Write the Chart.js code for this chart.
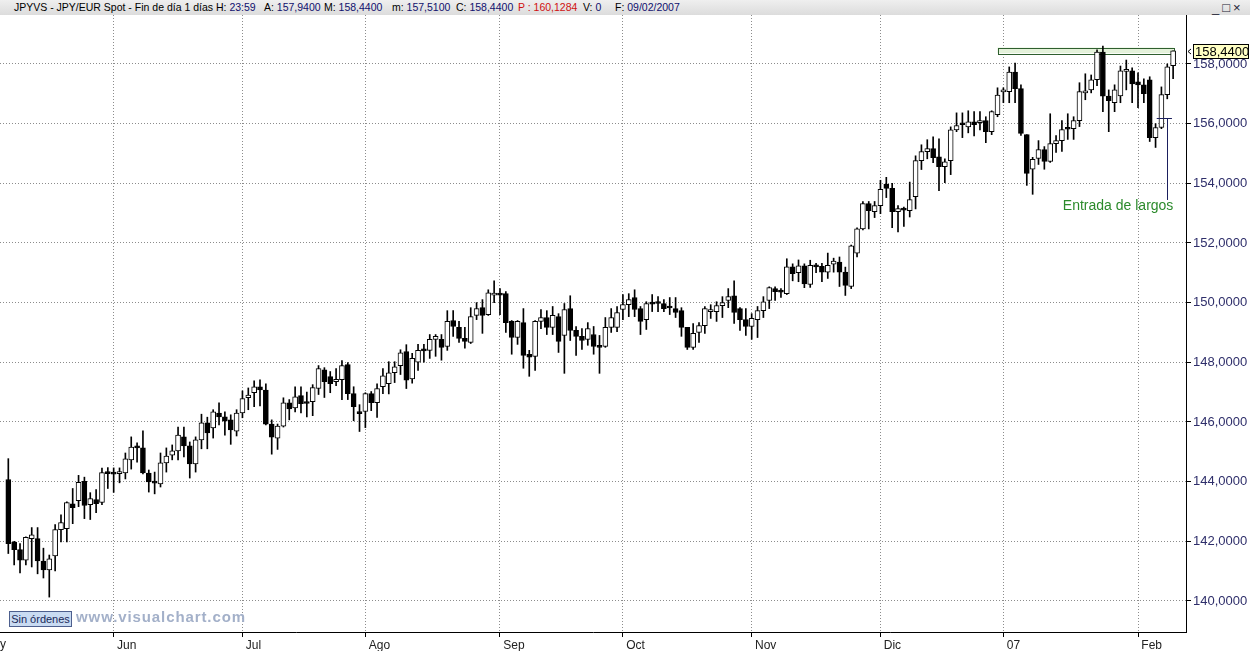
<!DOCTYPE html>
<html>
<head>
<meta charset="utf-8">
<script src="https://cdn.jsdelivr.net/npm/chart.js@4.4.1/dist/chart.umd.min.js"></script>
<style>
    body { margin: 0; width: 1250px; height: 651px; overflow: hidden; background: #fff; position: relative; font-family: "Liberation Sans", Arial, sans-serif; }
    #hdr { position: absolute; left: 0; top: 0; width: 1250px; height: 15px; background: linear-gradient(#efefef, #dcdcdc); font-size: 10.5px; line-height: 15px; white-space: nowrap; }
    #hdr span { position: absolute; top: 0; }
    #hdr b { font-weight: normal; color: #10106e; }
    #hdr .red { color: #d01010; }
    #btns { left: 1212px; font-size: 13px; color: #223; letter-spacing: 3px; }
    #chart { position: absolute; left: 0; top: 15px; }
    #orders { position: absolute; left: 9px; top: 611px; width: 61px; height: 14px; background: #c9dbf2; border: 1px solid #4d5f8e; font-size: 11px; line-height: 14px; text-align: center; color: #1a2a5a; }
    #wm { position: absolute; left: 76px; top: 608px; font-size: 15px; font-weight: bold; color: #a3b0c9; letter-spacing: 0.9px; }
</style>
</head>
<body>
<div id="hdr">
    <span style="left:14px">JPYVS - JPY/EUR Spot - Fin de día 1 días</span>
    <span style="left:216px">H: <b>23:59</b></span>
    <span style="left:264px">A: <b>157,9400</b></span>
    <span style="left:324px">M: <b>158,4400</b></span>
    <span style="left:392px">m: <b>157,5100</b></span>
    <span style="left:456px">C: <b>158,4400</b></span>
    <span style="left:518px" class="red">P : 160,1284</span>
    <span style="left:583px">V: <b>0</b></span>
    <span style="left:615px">F: <b>09/02/2007</b></span>
    <span id="btns">_□×</span>
</div>
<canvas id="chart" width="1250" height="636"></canvas>
<div id="orders">Sin órdenes</div>
<div id="wm">www.visualchart.com</div>

<script>
// Daily JPY/EUR candles, 8 May 2006 .. 9 Feb 2007 (weekdays)
const opens = [
    144.07, 141.97, 141.72, 141.37, 142.09, 142.09, 141.34, 141.04, 141.51, 142.39,
    142.42, 143.26, 143.36, 144.01, 143.23, 143.40, 143.30, 144.34, 144.29, 144.27,
    144.29, 144.73, 145.17, 145.13, 144.29, 144.00, 143.92, 144.63, 144.89, 145.03,
    145.50, 145.20, 144.59, 145.40, 145.97, 145.80, 146.30, 146.17, 146.07, 145.69,
    146.30, 146.81, 146.98, 147.18, 147.07, 145.93, 145.46, 145.86, 146.64, 146.47,
    146.88, 146.66, 146.68, 147.12, 147.75, 147.52, 147.35, 147.42, 147.92, 146.95,
    146.33, 146.35, 146.95, 146.65, 147.18, 147.28, 147.65, 147.89, 148.36, 147.44,
    148.00, 148.42, 148.40, 148.77, 148.77, 148.53, 149.40, 149.17, 148.80, 148.67,
    149.57, 149.83, 149.60, 150.25, 150.27, 150.30, 149.37, 148.83, 149.33, 148.27,
    148.20, 149.37, 149.50, 149.17, 149.53, 148.90, 149.80, 149.07, 148.87, 148.77,
    148.93, 148.53, 148.53, 149.17, 149.17, 149.77, 149.93, 150.17, 149.80, 149.43,
    149.98, 150.00, 149.97, 149.85, 149.80, 149.73, 149.17, 148.50, 149.00, 149.23,
    149.70, 149.70, 149.90, 150.07, 150.23, 149.80, 149.43, 149.20, 149.43, 149.73,
    150.07, 150.47, 150.38, 150.30, 151.20, 151.00, 151.23, 150.61, 151.25, 151.22,
    151.02, 151.29, 151.36, 151.02, 150.54, 151.66, 152.47, 153.32, 153.05, 153.25,
    153.97, 153.83, 153.05, 153.15, 153.08, 153.55, 154.76, 155.06, 155.16, 154.89,
    154.56, 154.76, 155.79, 155.98, 155.89, 156.06, 156.03, 156.10, 155.73, 156.30,
    157.06, 157.07, 157.73, 157.17, 155.63, 154.47, 154.83, 155.13, 154.73, 155.33,
    155.43, 155.85, 155.83, 156.10, 157.03, 157.13, 157.47, 158.40, 156.92, 156.70,
    156.93, 157.75, 157.77, 157.40, 157.30, 157.47, 155.53, 155.87, 156.97, 157.94
];
const highs = [
    144.77, 142.00, 141.92, 142.15, 142.46, 142.46, 141.77, 141.54, 142.56, 142.89,
    143.32, 143.77, 144.21, 144.15, 143.63, 143.73, 144.45, 144.47, 144.46, 144.46,
    144.96, 145.50, 145.30, 145.70, 144.39, 144.32, 144.96, 145.13, 145.23, 145.83,
    145.83, 145.33, 145.50, 146.26, 146.16, 146.41, 146.64, 146.34, 146.24, 146.41,
    147.04, 147.14, 147.38, 147.41, 147.28, 146.07, 145.93, 146.81, 146.75, 147.18,
    147.18, 147.00, 147.25, 147.89, 147.82, 147.69, 147.79, 148.06, 147.99, 147.18,
    146.58, 146.98, 147.02, 147.28, 147.79, 148.02, 148.02, 148.42, 148.59, 148.30,
    148.60, 148.60, 148.93, 148.93, 148.93, 149.73, 149.73, 149.37, 149.17, 149.83,
    150.00, 150.10, 150.43, 150.73, 150.47, 150.37, 149.40, 149.40, 149.80, 148.40,
    149.40, 149.77, 149.73, 149.87, 149.63, 149.97, 150.23, 149.20, 149.13, 149.33,
    149.20, 148.90, 149.50, 149.80, 149.87, 150.27, 150.30, 150.43, 149.87, 150.03,
    150.27, 150.20, 150.10, 150.17, 150.17, 149.83, 149.17, 149.30, 149.33, 149.87,
    149.93, 150.03, 150.20, 150.47, 150.73, 149.83, 149.80, 149.63, 149.87, 150.20,
    150.53, 150.53, 150.47, 151.47, 151.30, 151.43, 151.30, 151.42, 151.32, 151.32,
    151.66, 151.49, 151.53, 151.19, 151.93, 152.51, 153.39, 153.39, 153.39, 154.10,
    154.20, 154.00, 153.25, 153.20, 154.04, 154.92, 155.29, 155.46, 155.56, 155.49,
    154.82, 155.89, 156.36, 156.36, 156.43, 156.40, 156.40, 156.23, 156.43, 157.20,
    157.20, 157.90, 158.03, 157.30, 155.63, 154.87, 155.43, 155.23, 156.33, 155.60,
    156.10, 156.33, 156.23, 157.37, 157.67, 157.63, 158.47, 158.60, 157.13, 157.30,
    157.93, 158.13, 157.87, 157.70, 157.50, 157.57, 156.00, 157.23, 158.00, 158.44
];
const lows = [
    141.59, 141.21, 140.94, 141.21, 141.14, 140.91, 140.77, 140.13, 141.01, 141.98,
    141.98, 142.59, 143.16, 142.76, 142.73, 142.96, 143.23, 143.77, 143.64, 143.96,
    144.09, 144.42, 144.65, 144.26, 143.65, 143.59, 143.82, 144.32, 144.73, 144.73,
    144.83, 144.12, 144.32, 145.10, 145.10, 145.46, 145.90, 145.56, 145.25, 145.53,
    146.14, 146.41, 146.51, 146.54, 145.90, 144.92, 145.08, 145.83, 146.07, 146.34,
    146.30, 146.17, 146.21, 146.92, 146.82, 146.98, 147.22, 146.75, 146.75, 146.04,
    145.68, 145.81, 146.38, 146.15, 146.95, 146.94, 147.32, 147.59, 147.12, 147.30,
    147.73, 148.00, 148.13, 148.20, 148.07, 148.40, 148.87, 148.67, 148.47, 148.63,
    149.43, 148.97, 149.57, 150.00, 149.60, 149.00, 148.27, 148.60, 147.80, 147.53,
    147.73, 149.13, 148.93, 148.93, 148.33, 147.63, 148.73, 148.23, 148.43, 148.57,
    148.27, 147.63, 148.50, 149.00, 149.03, 149.43, 149.53, 149.53, 148.93, 149.10,
    149.70, 149.70, 149.70, 149.60, 149.50, 148.87, 148.43, 148.43, 148.67, 148.97,
    149.47, 149.37, 149.50, 149.83, 149.30, 149.07, 148.90, 148.77, 148.83, 149.50,
    149.80, 150.07, 150.17, 150.27, 150.73, 150.70, 150.50, 150.51, 151.00, 150.70,
    150.81, 151.02, 150.54, 150.24, 150.47, 151.53, 152.44, 152.47, 152.85, 152.98,
    153.52, 152.51, 152.37, 152.55, 152.87, 153.14, 154.46, 154.82, 154.69, 153.75,
    154.02, 154.29, 155.73, 155.53, 155.69, 155.59, 155.79, 155.36, 155.63, 156.23,
    156.70, 156.70, 156.70, 155.60, 153.93, 153.63, 154.63, 154.47, 154.70, 155.03,
    155.07, 155.47, 155.47, 155.90, 156.80, 157.03, 157.27, 156.40, 155.73, 156.40,
    156.70, 157.13, 156.70, 156.53, 156.70, 155.40, 155.20, 155.83, 156.83, 157.51
];
const closes = [
    141.92, 141.72, 141.37, 142.13, 142.22, 141.34, 141.04, 141.41, 142.39, 142.63,
    143.30, 143.13, 143.98, 143.20, 143.43, 143.26, 144.30, 144.27, 144.25, 144.29,
    144.76, 145.16, 145.13, 144.29, 143.99, 143.95, 144.63, 144.86, 145.03, 145.56,
    145.20, 144.59, 145.40, 145.97, 145.63, 146.34, 146.17, 146.03, 145.73, 146.30,
    146.78, 146.90, 147.18, 147.07, 145.93, 145.49, 145.86, 146.64, 146.44, 146.84,
    146.61, 146.62, 147.15, 147.79, 147.35, 147.28, 147.43, 147.89, 146.95, 146.51,
    146.28, 146.95, 146.65, 147.12, 147.55, 147.65, 147.85, 148.32, 147.40, 148.13,
    148.40, 148.38, 148.77, 148.87, 148.50, 149.37, 149.20, 148.80, 148.70, 149.53,
    149.80, 149.57, 150.33, 150.27, 150.25, 149.33, 148.83, 149.37, 148.23, 148.17,
    149.37, 149.50, 149.17, 149.57, 148.70, 149.77, 149.07, 148.87, 148.73, 149.13,
    148.53, 148.50, 149.17, 149.50, 149.67, 149.93, 150.10, 149.77, 149.37, 149.97,
    149.95, 149.97, 149.80, 149.82, 149.67, 149.17, 148.50, 148.97, 149.23, 149.80,
    149.73, 149.90, 150.00, 150.20, 149.67, 149.43, 149.20, 149.47, 149.73, 150.03,
    150.50, 150.37, 150.35, 151.20, 150.97, 151.23, 150.63, 151.25, 151.20, 151.02,
    151.25, 151.39, 151.02, 150.58, 151.90, 152.47, 153.32, 153.08, 153.25, 153.80,
    153.83, 153.05, 153.15, 153.10, 153.45, 154.76, 155.06, 155.16, 154.86, 154.56,
    154.72, 155.79, 155.93, 155.96, 156.06, 155.96, 156.10, 155.73, 156.40, 156.96,
    157.13, 157.73, 157.17, 155.67, 154.33, 154.80, 155.13, 154.73, 155.33, 155.43,
    155.80, 155.81, 156.10, 157.07, 157.06, 157.47, 158.40, 156.92, 156.77, 157.13,
    157.77, 157.77, 157.33, 157.30, 157.00, 155.53, 155.87, 156.97, 157.90, 158.44
];

// first trading day of each month (candle index) and its label
const monthStarts = [18, 40, 61, 84, 105, 127, 149, 170, 193];
const monthLabels = ['Jun', 'Jul', 'Ago', 'Sep', 'Oct', 'Nov', 'Dic', '07', 'Feb'];
const priceTicks = [140, 142, 144, 146, 148, 150, 152, 154, 156, 158];

const lastPrice = 158.44;
const resistance = [158.36, 158.55];
const entryPrice = 156.19;
const entryNote = 'Entrada de largos';

const fmt = v => v.toFixed(4).replace('.', ',');

const bodies = opens.map((o, i) => ({ x: i, y: [Math.min(o, closes[i]), Math.max(o, closes[i])] }));
const wicks = lows.map((l, i) => ({ x: i, y: [l, highs[i]] }));

const overlay = {
    id: 'overlay',
    beforeDatasetsDraw(chart) {
        const { ctx, scales: { x, y } } = chart;
        // resistance band
        const x1 = x.getPixelForValue(169), x2 = x.getPixelForValue(199.1);
        const yt = y.getPixelForValue(resistance[1]), yb = y.getPixelForValue(resistance[0]);
        ctx.save();
        ctx.fillStyle = '#e4f2da';
        ctx.fillRect(x1, yt, x2 - x1, yb - yt);
        ctx.strokeStyle = '#2f5f2f';
        ctx.lineWidth = 1;
        ctx.strokeRect(Math.round(x1) + 0.5, Math.round(yt) + 0.5, Math.round(x2 - x1), Math.round(yb - yt));
        ctx.restore();
    },
    afterDraw(chart) {
        const { ctx, scales: { x, y }, chartArea } = chart;
        ctx.save();
        // entry marker
        const ye = Math.round(y.getPixelForValue(entryPrice)) + 0.5;
        const xv = Math.round(x.getPixelForValue(197.9)) + 0.5;
        ctx.strokeStyle = '#1b1f5e';
        ctx.lineWidth = 1;
        ctx.beginPath();
        ctx.moveTo(x.getPixelForValue(196.2), ye);
        ctx.lineTo(x.getPixelForValue(198.8), ye);
        ctx.moveTo(xv, ye);
        ctx.lineTo(xv, y.getPixelForValue(153.44));
        ctx.stroke();

        ctx.fillStyle = '#2b8a2b';
        ctx.font = '14px "Liberation Sans", Arial, sans-serif';
        ctx.textAlign = 'center';
        ctx.textBaseline = 'middle';
        ctx.fillText(entryNote, x.getPixelForValue(189.6), y.getPixelForValue(153.24));

        // last price flag on the axis
        const yp = Math.round(y.getPixelForValue(lastPrice));
        const bx = chartArea.right + 7;
        ctx.fillStyle = '#ffffc4';
        ctx.fillRect(bx, yp - 7, 56, 15);
        ctx.strokeStyle = '#000';
        ctx.strokeRect(bx + 0.5, yp - 6.5, 55, 14);
        ctx.fillStyle = '#000';
        ctx.font = '13px "Liberation Sans", Arial, sans-serif';
        ctx.textAlign = 'left';
        ctx.fillText(fmt(lastPrice), bx + 2, yp + 1);
        ctx.beginPath();
        ctx.moveTo(chartArea.right + 5, yp - 2);
        ctx.lineTo(chartArea.right + 2, yp + 0.5);
        ctx.lineTo(chartArea.right + 5, yp + 3);
        ctx.stroke();

        // tail of the May label cut by the left edge
        ctx.fillStyle = '#222';
        ctx.font = '12px "Liberation Sans", Arial, sans-serif';
        ctx.textAlign = 'right';
        ctx.textBaseline = 'top';
        ctx.fillText('May', 6, chartArea.bottom + 7);
        ctx.restore();
    }
};

new Chart(document.getElementById('chart'), {
    type: 'bar',
    data: {
        datasets: [
            {
                label: 'body',
                data: bodies,
                grouped: false,
                barThickness: 5,
                minBarLength: 2,
                borderSkipped: false,
                borderWidth: 1,
                borderColor: '#000',
                backgroundColor: ctx => closes[ctx.dataIndex] >= opens[ctx.dataIndex] ? '#fff' : '#000'
            },
            {
                label: 'wick',
                data: wicks,
                grouped: false,
                barThickness: 1,
                borderWidth: 0,
                backgroundColor: '#000'
            }
        ]
    },
    options: {
        responsive: false,
        animation: false,
        devicePixelRatio: 1,
        layout: { padding: 0 },
        plugins: { legend: { display: false }, tooltip: { enabled: false } },
        scales: {
            x: {
                type: 'linear',
                min: -1.42,
                max: 201.2,
                offset: false,
                afterBuildTicks: s => { s.ticks = monthStarts.map(v => ({ value: v })); },
                afterFit: s => { s.height = 19; s.paddingLeft = 0; s.paddingRight = 0; },
                ticks: {
                    autoSkip: false,
                    maxRotation: 0,
                    align: 'start',
                    padding: 1,
                    color: '#222',
                    font: { family: '"Liberation Sans", Arial, sans-serif', size: 12 },
                    callback: v => ' ' + monthLabels[monthStarts.indexOf(v)]
                },
                grid: { offset: false, color: '#8c8c8c', tickColor: '#000', tickLength: 5 },
                border: { color: '#000', dash: [1, 2] }
            },
            y: {
                position: 'right',
                min: 138.96,
                max: 159.64,
                afterBuildTicks: s => { s.ticks = priceTicks.map(v => ({ value: v })); },
                afterFit: s => { s.width = 64; s.paddingTop = 0; s.paddingBottom = 0; },
                ticks: {
                    padding: 2,
                    color: '#2e2e6a',
                    font: { family: '"Liberation Sans", Arial, sans-serif', size: 13 },
                    callback: v => fmt(v)
                },
                grid: { color: '#8c8c8c', tickColor: '#000', tickLength: 5 },
                border: { color: '#000', dash: [1, 2] }
            }
        }
    },
    plugins: [overlay]
});
</script>
</body>
</html>
